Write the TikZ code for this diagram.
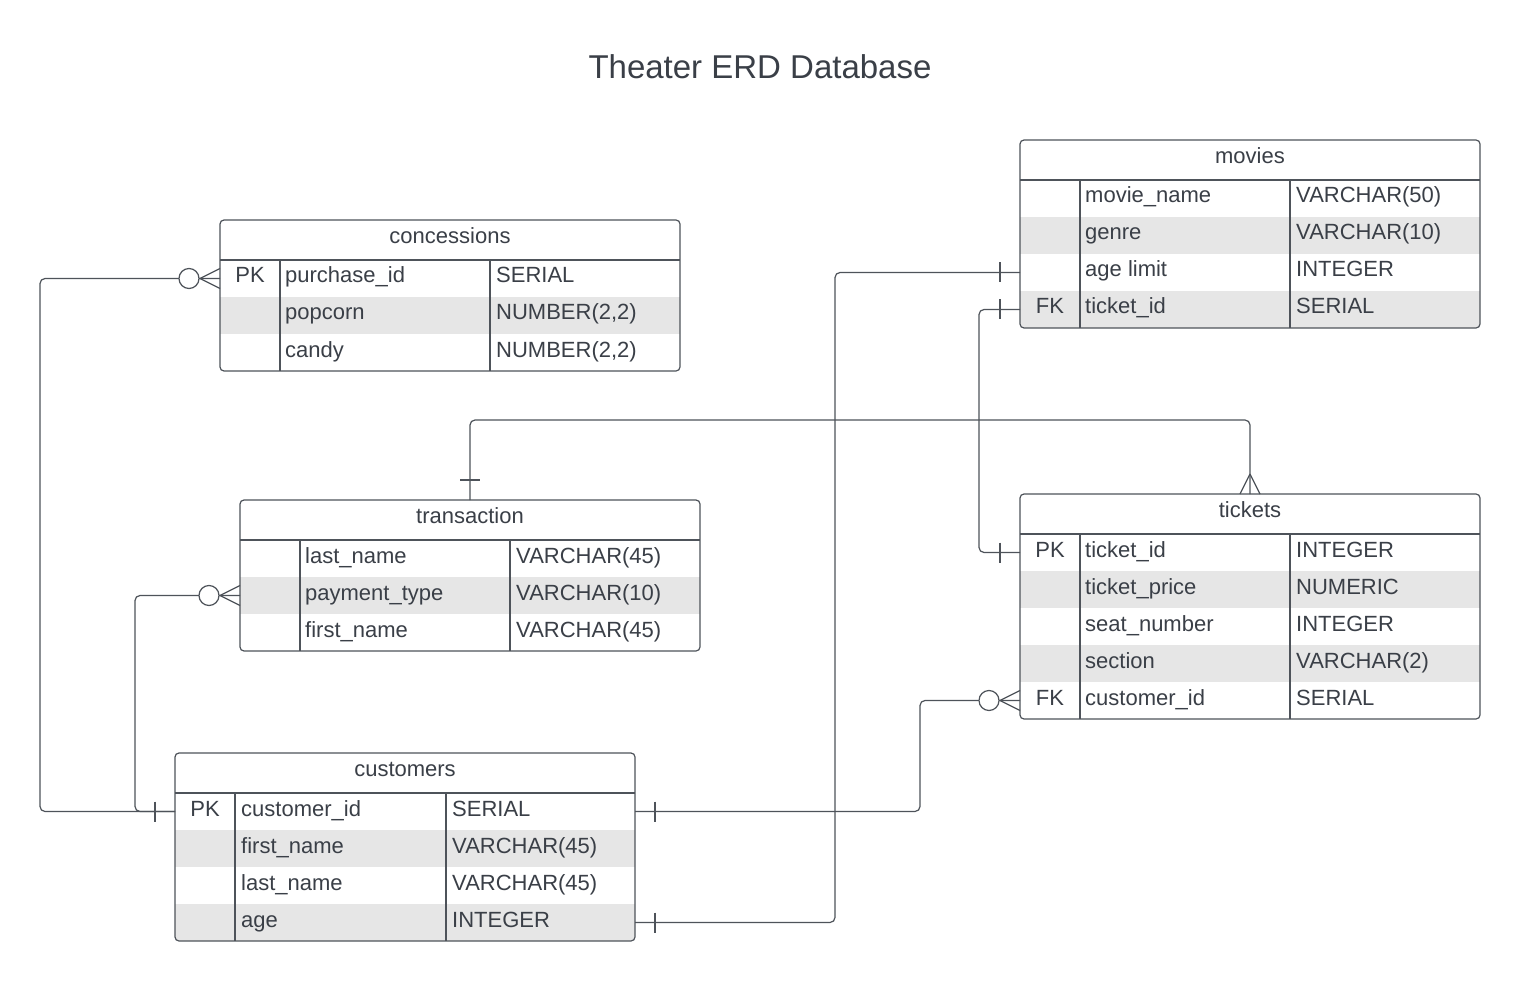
\documentclass[tikz,border=0pt]{standalone}
\usepackage{fontspec}
\setmainfont{Liberation Sans}
\usetikzlibrary{calc}
\definecolor{txtc}{HTML}{3A3F47}
\definecolor{linec}{HTML}{4E535A}
\definecolor{rowg}{HTML}{E6E6E6}
\newcommand\erdcell{\fontsize{22}{26}\selectfont}
\newcommand\erdtitle{\fontsize{33}{40}\selectfont}
\tikzset{
 tblbox/.style={draw=linec, line width=1.2pt, rounded corners=4pt, minimum width=460pt, inner sep=0pt, outer sep=0pt, anchor=north west},
 tline/.style={draw=linec, line width=1.1pt},
 conn/.style={draw=linec, line width=1.2pt, rounded corners=5pt},
 cardmark/.style={draw=linec, line width=1.2pt},
 cell/.style={font=\erdcell, text=txtc, inner sep=0pt, anchor=base west, yshift=1.5pt},
 keyc/.style={cell, anchor=base},
 hdr/.style={cell, anchor=base},
 ttl/.style={font=\erdtitle, text=txtc, inner sep=0pt, anchor=base},
}
\newcommand\zmanyL[1]{%
  \draw[cardmark] ($(#1)+(-20,0)$) -- ($(#1)+(0,-10)$) ($(#1)+(-20,0)$) -- ($(#1)+(0,10)$);
  \draw[cardmark, fill=white] ($(#1)+(-31,0)$) circle[radius=10];}
\newcommand\barL[1]{\draw[cardmark] ($(#1)+(-20,-10)$) -- ($(#1)+(-20,10)$);}
\newcommand\barR[1]{\draw[cardmark] ($(#1)+(20,-10)$) -- ($(#1)+(20,10)$);}
\begin{document}
\begin{tikzpicture}[x=1pt,y=-1pt]
\useasboundingbox (0,0) rectangle (1520,981);
\fill[white] (0,0) rectangle (1520,981);

\node[ttl] (title) at (760,79) {Theater ERD Database};

% ---------- concessions ----------
\fill[rowg] (220,297) rectangle (680,334);
\node[tblbox, minimum height=151pt] (conc) at (220,220) {};
\draw[tline] (220,260) -- (680,260) (280,260) -- (280,371) (490,260) -- (490,371);
\node[hdr] (conc-h) at (450,245) {concessions};
\node[keyc] (conc-k1) at (250,284.5) {PK};
\node[cell] (conc-n1) at (285,284.5) {purchase\_id};
\node[cell] (conc-t1) at (496,284.5) {SERIAL};
\node[cell] (conc-n2) at (285,321.5) {popcorn};
\node[cell] (conc-t2) at (496,321.5) {NUMBER(2,2)};
\node[cell] (conc-n3) at (285,358.5) {candy};
\node[cell] (conc-t3) at (496,358.5) {NUMBER(2,2)};
\coordinate (conc-r1) at (220,278.5);

% ---------- movies ----------
\fill[rowg] (1020,217) rectangle (1480,254);
\begin{scope}
\clip[rounded corners=4pt] (1020,140) rectangle (1480,328);
\fill[rowg] (1020,291) rectangle (1480,328);
\end{scope}
\node[tblbox, minimum height=188pt] (movies) at (1020,140) {};
\draw[tline] (1020,180) -- (1480,180) (1080,180) -- (1080,328) (1290,180) -- (1290,328);
\node[hdr] (movies-h) at (1250,165) {movies};
\node[cell] (movies-n1) at (1085,204.5) {movie\_name};
\node[cell] (movies-t1) at (1296,204.5) {VARCHAR(50)};
\node[cell] (movies-n2) at (1085,241.5) {genre};
\node[cell] (movies-t2) at (1296,241.5) {VARCHAR(10)};
\node[cell] (movies-n3) at (1085,278.5) {age limit};
\node[cell] (movies-t3) at (1296,278.5) {INTEGER};
\node[keyc] (movies-k4) at (1050,315.5) {FK};
\node[cell] (movies-n4) at (1085,315.5) {ticket\_id};
\node[cell] (movies-t4) at (1296,315.5) {SERIAL};
\coordinate (movies-r3) at (1020,272.5);
\coordinate (movies-r4) at (1020,309.5);

% ---------- transaction ----------
\fill[rowg] (240,577) rectangle (700,614);
\node[tblbox, minimum height=151pt] (trans) at (240,500) {};
\draw[tline] (240,540) -- (700,540) (300,540) -- (300,651) (510,540) -- (510,651);
\node[hdr] (trans-h) at (470,525) {transaction};
\node[cell] (trans-n1) at (305,564.5) {last\_name};
\node[cell] (trans-t1) at (516,564.5) {VARCHAR(45)};
\node[cell] (trans-n2) at (305,601.5) {payment\_type};
\node[cell] (trans-t2) at (516,601.5) {VARCHAR(10)};
\node[cell] (trans-n3) at (305,638.5) {first\_name};
\node[cell] (trans-t3) at (516,638.5) {VARCHAR(45)};
\coordinate (trans-r2) at (240,595.5);

% ---------- tickets ----------
\fill[rowg] (1020,571) rectangle (1480,608);
\fill[rowg] (1020,645) rectangle (1480,682);
\node[tblbox, minimum height=225pt] (tick) at (1020,494) {};
\draw[tline] (1020,534) -- (1480,534) (1080,534) -- (1080,719) (1290,534) -- (1290,719);
\node[hdr] (tick-h) at (1250,519) {tickets};
\node[keyc] (tick-k1) at (1050,558.5) {PK};
\node[cell] (tick-n1) at (1085,558.5) {ticket\_id};
\node[cell] (tick-t1) at (1296,558.5) {INTEGER};
\node[cell] (tick-n2) at (1085,595.5) {ticket\_price};
\node[cell] (tick-t2) at (1296,595.5) {NUMERIC};
\node[cell] (tick-n3) at (1085,632.5) {seat\_number};
\node[cell] (tick-t3) at (1296,632.5) {INTEGER};
\node[cell] (tick-n4) at (1085,669.5) {section};
\node[cell] (tick-t4) at (1296,669.5) {VARCHAR(2)};
\node[keyc] (tick-k5) at (1050,706.5) {FK};
\node[cell] (tick-n5) at (1085,706.5) {customer\_id};
\node[cell] (tick-t5) at (1296,706.5) {SERIAL};
\coordinate (tick-r1) at (1020,552.5);
\coordinate (tick-r5) at (1020,700.5);

% ---------- customers ----------
\fill[rowg] (175,830) rectangle (635,867);
\begin{scope}
\clip[rounded corners=4pt] (175,753) rectangle (635,941);
\fill[rowg] (175,904) rectangle (635,941);
\end{scope}
\node[tblbox, minimum height=188pt] (cust) at (175,753) {};
\draw[tline] (175,793) -- (635,793) (235,793) -- (235,941) (446,793) -- (446,941);
\node[hdr] (cust-h) at (405,778) {customers};
\node[keyc] (cust-k1) at (205,817.5) {PK};
\node[cell] (cust-n1) at (241,817.5) {customer\_id};
\node[cell] (cust-t1) at (452,817.5) {SERIAL};
\node[cell] (cust-n2) at (241,854.5) {first\_name};
\node[cell] (cust-t2) at (452,854.5) {VARCHAR(45)};
\node[cell] (cust-n3) at (241,891.5) {last\_name};
\node[cell] (cust-t3) at (452,891.5) {VARCHAR(45)};
\node[cell] (cust-n4) at (241,928.5) {age};
\node[cell] (cust-t4) at (452,928.5) {INTEGER};
\coordinate (cust-r1) at (175,811.5);
\coordinate (cust-r1e) at (635,811.5);
\coordinate (cust-r4e) at (635,922.5);

% ---------- connectors ----------
\draw[conn] (cust-r1) -- ++(-135,0) |- (conc-r1);
\draw[conn] (cust-r1) -- ++(-40,0) |- (trans-r2);
\draw[conn] (cust-r1e) -- ++(285,0) |- (tick-r5);
\draw[conn] (cust-r4e) -- ++(200,0) |- (movies-r3);
\draw[conn] (movies-r4) -- ++(-41,0) |- (tick-r1);
\draw[conn] (trans.north) -- ++(0,-80) -| (tick.north);

% ---------- cardinality marks ----------
\zmanyL{conc-r1}
\zmanyL{trans-r2}
\zmanyL{tick-r5}
\barL{cust-r1}
\barR{cust-r1e}
\barR{cust-r4e}
\barL{movies-r3}
\barL{movies-r4}
\barL{tick-r1}
\draw[cardmark] ($(trans.north)+(-10,-20)$) -- ($(trans.north)+(10,-20)$);
\draw[cardmark] ($(tick.north)+(0,-20)$) -- ($(tick.north)+(-10,0)$)
            ($(tick.north)+(0,-20)$) -- ($(tick.north)+(10,0)$);
\end{tikzpicture}
\end{document}
